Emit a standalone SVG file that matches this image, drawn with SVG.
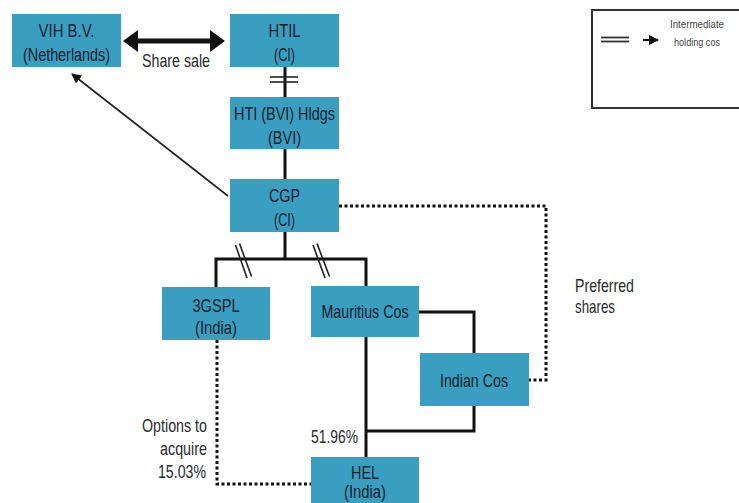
<svg xmlns="http://www.w3.org/2000/svg" width="739" height="503" viewBox="0 0 739 503">
<style>
.box{fill:#3a9ec0;}
.t{font-family:"Liberation Sans",Arial,sans-serif;font-size:18.5px;fill:#14222c;text-anchor:middle;}
.l{font-family:"Liberation Sans",Arial,sans-serif;font-size:18.5px;fill:#2a2a2a;}
.s{font-family:"Liberation Sans",Arial,sans-serif;font-size:10.5px;fill:#444;text-anchor:middle;}
.ln{stroke:#111;stroke-width:3;fill:none;}
.th{stroke:#222;stroke-width:1.6;fill:none;}
.dot{stroke:#111;stroke-width:3;fill:none;stroke-dasharray:3 2.5;}
</style>
<defs>
<marker id="ah" markerWidth="10" markerHeight="10" refX="9" refY="5" orient="auto" markerUnits="userSpaceOnUse">
<path d="M0,0 L10,5 L0,10 Z" fill="#111"/>
</marker>
</defs>
<rect width="739" height="503" fill="#fff"/>

<g id="connectors">
<path d="M138,38.5 H210 V30 L225,41 L210,52 V43.5 H138 V52 L123,41 L138,30 Z" fill="#111"/>
<line class="ln" x1="285" y1="67" x2="285" y2="97"/>
<line class="th" x1="270" y1="77" x2="298" y2="77"/>
<line class="th" x1="270" y1="82" x2="298" y2="82"/>
<line class="ln" x1="285" y1="149" x2="285" y2="179"/>
<line class="th" x1="228" y1="196" x2="72" y2="74" marker-end="url(#ah)"/>
<path class="ln" d="M285,232 V259 M216,287 V259 H366 V286"/>
<line class="th" x1="235.5" y1="245" x2="247" y2="278"/>
<line class="th" x1="239.5" y1="243.5" x2="251.5" y2="276.5"/>
<line class="th" x1="313" y1="245" x2="325" y2="278"/>
<line class="th" x1="317" y1="243.5" x2="329.5" y2="276.5"/>
<path class="ln" d="M419,312 H474 V353"/>
<path class="ln" d="M366,337 V457"/>
<path class="ln" d="M474,406 V431 H366"/>
<path class="dot" d="M339,206 H546 V380 H529"/>
<path class="dot" d="M217,340 V484 H311"/>
</g>

<g id="vih"><rect class="box" x="12" y="14" width="109" height="53"/>
<text class="t" x="66.5" y="37" textLength="56" lengthAdjust="spacingAndGlyphs">VIH B.V.</text>
<text class="t" x="66.5" y="61" textLength="87" lengthAdjust="spacingAndGlyphs">(Netherlands)</text></g>

<g id="htil"><rect class="box" x="230" y="14" width="109" height="53"/>
<text class="t" x="284.5" y="37" textLength="32" lengthAdjust="spacingAndGlyphs">HTIL</text>
<text class="t" x="284.5" y="61" textLength="21" lengthAdjust="spacingAndGlyphs">(CI)</text></g>

<g id="hti"><rect class="box" x="230" y="97" width="109" height="52"/>
<text class="t" x="284.5" y="120" textLength="101" lengthAdjust="spacingAndGlyphs">HTI (BVI) Hldgs</text>
<text class="t" x="284.5" y="144" textLength="33" lengthAdjust="spacingAndGlyphs">(BVI)</text></g>

<g id="cgp"><rect class="box" x="230" y="179" width="109" height="53"/>
<text class="t" x="284.5" y="202" textLength="31" lengthAdjust="spacingAndGlyphs">CGP</text>
<text class="t" x="284.5" y="226" textLength="21" lengthAdjust="spacingAndGlyphs">(CI)</text></g>

<g id="gspl"><rect class="box" x="162" y="287" width="108" height="53"/>
<text class="t" x="216" y="312" textLength="47" lengthAdjust="spacingAndGlyphs">3GSPL</text>
<text class="t" x="216" y="334" textLength="42" lengthAdjust="spacingAndGlyphs">(India)</text></g>

<g id="mauritius"><rect class="box" x="311" y="286" width="108" height="51"/>
<text class="t" x="365" y="318" textLength="87" lengthAdjust="spacingAndGlyphs">Mauritius Cos</text></g>

<g id="indian"><rect class="box" x="420" y="353" width="109" height="53"/>
<text class="t" x="474" y="387" textLength="68" lengthAdjust="spacingAndGlyphs">Indian Cos</text></g>

<g id="hel"><rect class="box" x="311" y="457" width="108" height="50"/>
<text class="t" x="365" y="479" textLength="28" lengthAdjust="spacingAndGlyphs">HEL</text>
<text class="t" x="365" y="498" textLength="42" lengthAdjust="spacingAndGlyphs">(India)</text></g>

<g id="labels">
<text class="l" x="142" y="67" textLength="68" lengthAdjust="spacingAndGlyphs">Share sale</text>
<text class="l" x="575" y="292" textLength="59" lengthAdjust="spacingAndGlyphs">Preferred</text>
<text class="l" x="575" y="313" textLength="40" lengthAdjust="spacingAndGlyphs">shares</text>
<text class="l" x="311" y="443" textLength="47" lengthAdjust="spacingAndGlyphs">51.96%</text>
<text class="l" x="142" y="432" textLength="65" lengthAdjust="spacingAndGlyphs">Options to</text>
<text class="l" x="160" y="455" textLength="47" lengthAdjust="spacingAndGlyphs">acquire</text>
<text class="l" x="158" y="478" textLength="48" lengthAdjust="spacingAndGlyphs">15.03%</text>
</g>

<g id="legend">
<rect x="592" y="10" width="160" height="98" fill="#fff" stroke="#333" stroke-width="2"/>
<line x1="601" y1="37.5" x2="629" y2="37.5" stroke="#333" stroke-width="1.8"/>
<line x1="601" y1="41.5" x2="629" y2="41.5" stroke="#333" stroke-width="1.8"/>
<line x1="643" y1="40" x2="658" y2="40" stroke="#111" stroke-width="2" marker-end="url(#ah)"/>
<text class="s" x="697" y="28" textLength="54" lengthAdjust="spacingAndGlyphs">Intermediate</text>
<text class="s" x="697" y="46" textLength="46" lengthAdjust="spacingAndGlyphs">holding cos</text>
</g>
</svg>
